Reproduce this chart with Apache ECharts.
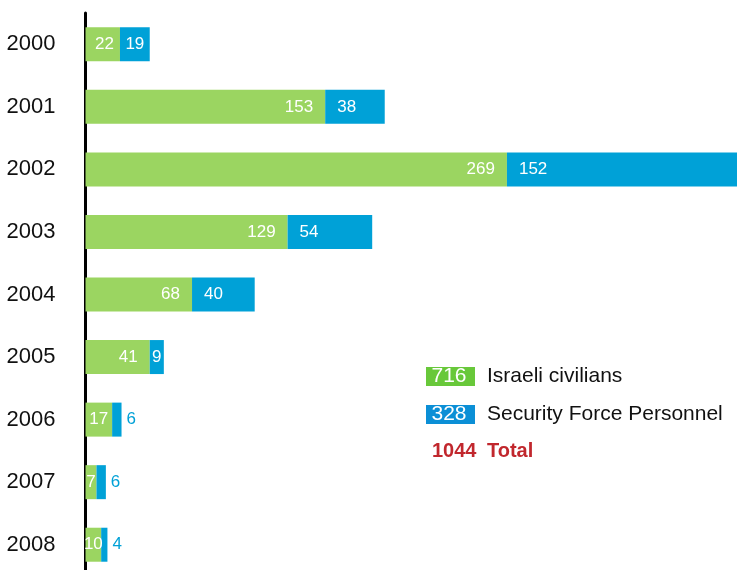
<!DOCTYPE html>
<html>
<head>
<meta charset="utf-8">
<script src="https://cdn.jsdelivr.net/npm/echarts@6/dist/echarts.min.js"></script>
<style>html,body{margin:0;padding:0;background:#fff;overflow:hidden;width:737px;height:570px}#c{width:760px;height:590px}</style>
</head>
<body>
<div id="c"></div>
<script>
const years = ['2000','2001','2002','2003','2004','2005','2006','2007','2008'];
const civilians = [22,153,269,129,68,41,17,7,10];
const security = [19,38,152,54,40,9,6,6,4];
const civName = 'Israeli civilians';
const secName = 'Security Force Personnel';
const totalName = 'Total';

const GREEN = '#9bd561';
const BLUE = '#00a1d7';
const FONT = '"Liberation Sans", Arial, Helvetica, sans-serif';

const sum = a => a.reduce((s, v) => s + v, 0);
const civTotal = sum(civilians), secTotal = sum(security);

const civData = civilians.map(v => {
  if (v < 20) return { value: v, label: { position: 'inside' } };
  return { value: v, label: { position: 'insideRight', distance: v >= 30 ? 12 : 6 } };
});
const secData = security.map(v => {
  if (v < 8) return { value: v, label: { position: 'right', color: BLUE, distance: 5 } };
  if (v < 30) return { value: v, label: { position: 'inside' } };
  return { value: v, label: { position: 'insideLeft', distance: 12 } };
});

const chart = echarts.init(document.getElementById('c'), null, { renderer: 'canvas' });
chart.setOption({
  animation: false,
  textStyle: { fontFamily: FONT },
  grid: { left: 85.5, top: 13, width: 658, height: 563, containLabel: false },
  xAxis: { type: 'value', min: 0, max: 420, show: false },
  yAxis: {
    type: 'category', data: years, inverse: true,
    axisLine: { show: true, lineStyle: { color: '#000', width: 3 } },
    axisTick: { show: false },
    axisLabel: { fontSize: 22, color: '#111', margin: 30, fontFamily: FONT },
    splitLine: { show: false }
  },
  legend: {
    orient: 'vertical', left: 416, top: 361, itemGap: 17,
    icon: 'none', itemWidth: 0, itemHeight: 0,
    selectedMode: false,
    data: [civName, secName],
    formatter: name => name === civName
      ? '{g|' + civTotal + '}{t|' + name + '}'
      : '{b|' + secTotal + '}{t|' + name + '}',
    textStyle: {
      fontFamily: FONT, lineHeight: 19,
      rich: {
        g: { backgroundColor: '#68c83a', color: '#fff', fontSize: 21, width: 46, height: 19, lineHeight: 19, align: 'right', padding: [0, 3, 0, 0], fontFamily: FONT },
        b: { backgroundColor: '#0b8fd6', color: '#fff', fontSize: 21, width: 46, height: 19, lineHeight: 19, align: 'right', padding: [0, 3, 0, 0], fontFamily: FONT },
        t: { color: '#111', fontSize: 21, lineHeight: 19, padding: [0, 0, 0, 12], fontFamily: FONT }
      }
    }
  },
  graphic: [{
    type: 'text', left: 432, top: 441,
    style: {
      text: '{n|' + (civTotal + secTotal) + '}{t|' + totalName + '}',
      rich: {
        n: { fill: '#c1272d', fontSize: 20, lineHeight: 20, fontWeight: 'bold', fontFamily: FONT, width: 55 },
        t: { fill: '#c1272d', fontSize: 20, lineHeight: 20, fontWeight: 'bold', fontFamily: FONT }
      }
    }
  }],
  series: [
    {
      name: civName, type: 'bar', stack: 'a', barWidth: 34,
      itemStyle: { color: GREEN },
      label: { show: true, position: 'insideRight', color: '#fff', fontSize: 17, fontFamily: FONT },
      data: civData
    },
    {
      name: secName, type: 'bar', stack: 'a', barWidth: 34,
      itemStyle: { color: BLUE },
      label: { show: true, position: 'insideLeft', color: '#fff', fontSize: 17, fontFamily: FONT },
      data: secData
    }
  ]
});
</script>
</body>
</html>
